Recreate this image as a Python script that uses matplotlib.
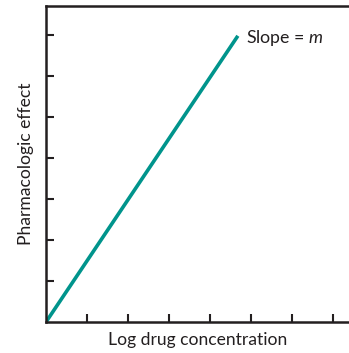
import matplotlib
matplotlib.use("Agg")
import matplotlib.pyplot as plt

# data (in tick units)
line_x = [0.0, 4.68]
line_y = [0.0, 6.98]
x_ticks = [1, 2, 3, 4, 5, 6, 7]
y_ticks = [1, 2, 3, 4, 5, 6, 7]
x_label = "Log drug concentration"
y_label = "Pharmacologic effect"
annotation = "Slope = $\\mathit{m}$"

plt.rcParams['font.family'] = ['Lato', 'DejaVu Sans']
plt.rcParams['mathtext.fontset'] = 'custom'
plt.rcParams['mathtext.it'] = 'Lato:italic'

fig = plt.figure(figsize=(3.49, 3.53), dpi=100)
ax = fig.add_axes([46/349, 31/353, 1 - 46/349, (322-6)/353])
ax.plot(line_x, line_y, color='#00948c', lw=2.6, solid_capstyle='butt')
ax.set_xlim(0, (349-46)/41)
ax.set_ylim(0, (322-6)/41)
ax.set_xticks(x_ticks)
ax.set_yticks(y_ticks)
ax.set_xticklabels([])
ax.set_yticklabels([])
ax.tick_params(direction='in', length=6, width=1.5, color='#231f20')
ax.spines['right'].set_visible(False)
for s in ['left', 'bottom', 'top']:
    ax.spines[s].set_linewidth(1.8)
    ax.spines[s].set_color('#231f20')
ax.set_xlabel(x_label, fontsize=12.6, color='#231f20', labelpad=4)
ax.set_ylabel(y_label, fontsize=12.6, color='#231f20', labelpad=5)
ax.text(line_x[1] + 0.2, line_y[1] - 0.05, annotation, fontsize=12.8, color='#231f20', va='center', ha='left')

fig.savefig('out.png', dpi=100)
